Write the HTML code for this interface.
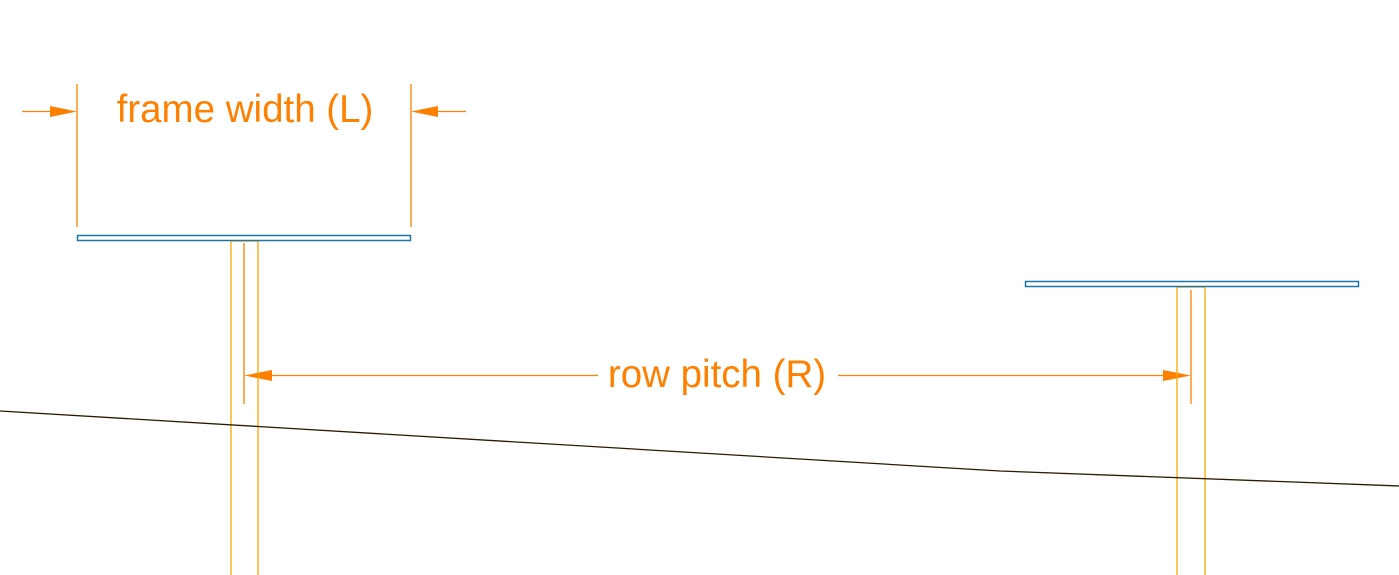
<!DOCTYPE html>
<html><head><style>body{margin:0;background:#fff}svg{display:block}</style></head><body>
<svg width="1399" height="575" viewBox="0 0 1399 575" xmlns="http://www.w3.org/2000/svg">
<g stroke="#ff8000" stroke-width="1.3" fill="none">
<line x1="77" y1="84" x2="77" y2="227"/>
<line x1="411" y1="84" x2="411" y2="227"/>
<line x1="22" y1="111.5" x2="60" y2="111.5"/>
<line x1="428" y1="111.5" x2="466" y2="111.5"/>
<line x1="244" y1="243" x2="244" y2="404"/>
<line x1="1191" y1="290" x2="1191" y2="404"/>
<line x1="270" y1="375.5" x2="598" y2="375.5"/>
<line x1="838" y1="375.5" x2="1165" y2="375.5"/>
</g>
<g fill="#ff8000">
<polygon points="77,111.5 50,106 50,117"/>
<polygon points="411,111.5 438,106 438,117"/>
<polygon points="244,375.5 272,370 272,381"/>
<polygon points="1191,375.5 1163,370 1163,381"/>
</g>
<g stroke="#ffa500" stroke-width="1.3" fill="none">
<polyline points="231,575 231,241 258,241 258,575"/>
<polyline points="1177,575 1177,287 1205,287 1205,575"/>
</g>
<rect x="77.5" y="235.5" width="333" height="5" fill="#fff" stroke="#1a75a8" stroke-width="1.5"/>
<rect x="1025.5" y="281.5" width="333" height="5" fill="#fff" stroke="#1a75a8" stroke-width="1.5"/>
<polyline points="0,411 1000,471 1399,486" stroke="#2a1a00" stroke-width="1.3" fill="none"/>
<g font-family="Liberation Sans, sans-serif" font-size="38.5" fill="#ff8000" text-anchor="middle">
<text x="245" y="122">frame width (L)</text>
<text x="717" y="387">row pitch (R)</text>
</g>
</svg>
</body></html>
